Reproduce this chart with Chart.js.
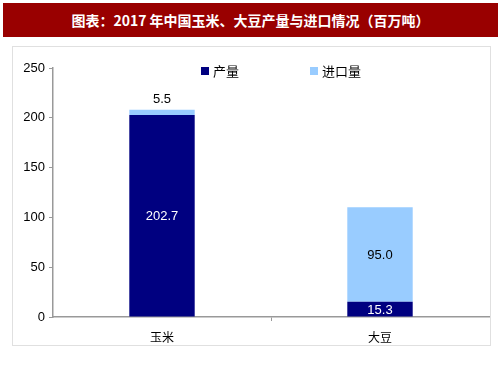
<!DOCTYPE html>
<html>
<head>
<meta charset="utf-8">
<script src="https://cdn.jsdelivr.net/npm/chart.js@4.4.0/dist/chart.umd.min.js"></script>
<style>
  html, body { margin: 0; padding: 0; background: #fff; }
  #wrap { position: relative; width: 503px; height: 378px; overflow: hidden; }
  #banner {
    position: absolute; left: 3px; top: 3px; width: 495px; height: 34px;
    background: #990000; color: #fff; text-align: center; line-height: 34px;
    font-family: "Noto Sans CJK SC", sans-serif; font-weight: bold; font-size: 14px;
  }
  #box { position: absolute; left: 12px; top: 46px; width: 477px; height: 298px; border: 1px solid #e0e0e0; }
  #myChart { position: absolute; left: 0; top: 0; }
</style>
</head>
<body>
<div id="wrap">
  <div id="banner">图表：2017 年中国玉米、大豆产量与进口情况（百万吨）</div>
  <div id="box"></div>
  <canvas id="myChart" width="503" height="378"></canvas>
</div>
<script>
var categories = ['玉米', '大豆']
var seriesNames = ['产量', '进口量']
var production = [202.7, 15.3]
var imports = [5.5, 95.0]
var yTicks = [0, 50, 100, 150, 200, 250]

var colors = ['#000080', '#99CCFF']
var labelColors = ['#ffffff', '#000000']

// draws legend and value labels
var extras = {
    id: 'extras',
    afterDatasetsDraw: function (chart) {
        var ctx = chart.ctx
        ctx.save()
        ctx.font = '13px "Liberation Sans", Arial, sans-serif'
        ctx.textAlign = 'center'
        ctx.textBaseline = 'middle'
        chart.data.datasets.forEach(function (ds, di) {
            chart.getDatasetMeta(di).data.forEach(function (bar, i) {
                var v = ds.data[i]
                var txt = v.toFixed(1)
                var h = bar.base - bar.y
                if (h < 20 && di === 1) {
                    ctx.fillStyle = '#000'
                    ctx.fillText(txt, bar.x, bar.y - 10)
                } else {
                    ctx.fillStyle = labelColors[di]
                    ctx.fillText(txt, bar.x, (bar.y + bar.base) / 2 + 1)
                }
            })
        })
        // legend
        var lx = [201, 310]
        ctx.textAlign = 'left'
        ctx.font = '13px "Noto Sans CJK SC", sans-serif'
        chart.data.datasets.forEach(function (ds, di) {
            ctx.fillStyle = ds.backgroundColor
            ctx.fillRect(lx[di], 67, 8, 8)
            ctx.fillStyle = '#000'
            ctx.fillText(ds.label, lx[di] + 12, 71)
        })
        ctx.restore()
    }
}

new Chart(document.getElementById('myChart').getContext('2d'), {
    type: 'bar',
    data: {
        labels: categories,
        datasets: [
            { label: seriesNames[0], data: production, backgroundColor: colors[0] },
            { label: seriesNames[1], data: imports, backgroundColor: colors[1] }
        ]
    },
    options: {
        responsive: false,
        animation: false,
        layout: { padding: { left: 13, right: 14, top: 68, bottom: 32 } },
        plugins: { legend: { display: false }, tooltip: { enabled: false } },
        datasets: { bar: { categoryPercentage: 1, barPercentage: 0.3 } },
        scales: {
            x: {
                stacked: true,
                afterFit: function (s) { s.height = 29 },
                border: { color: '#999', width: 1.5 },
                grid: {
                    offset: true, drawOnChartArea: false, tickLength: 4,
                    color: function (c) { return c.index === 1 ? '#999' : 'rgba(0,0,0,0)' }
                },
                ticks: { color: '#000', padding: 9, font: { family: '"Noto Sans CJK SC", sans-serif', size: 12 } }
            },
            y: {
                stacked: true,
                min: 0,
                max: 250,
                afterFit: function (s) { s.width = 40 },
                afterBuildTicks: function (s) { s.ticks = yTicks.map(function (v) { return { value: v } }) },
                border: { color: '#999', width: 1.5 },
                grid: { drawOnChartArea: false, tickLength: 4, color: '#999' },
                ticks: { color: '#000', padding: 4, font: { family: '"Liberation Sans", Arial, sans-serif', size: 13 } }
            }
        }
    },
    plugins: [extras]
})
</script>
</body>
</html>
